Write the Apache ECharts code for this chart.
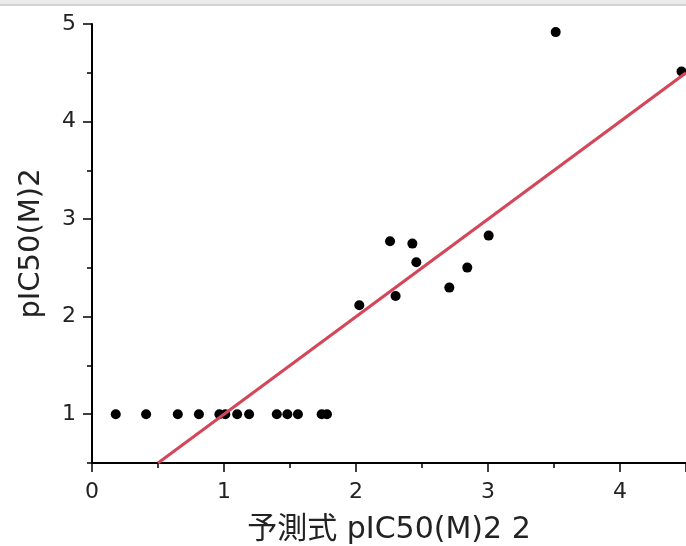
<!DOCTYPE html>
<html>
<head>
<meta charset="utf-8">
<script src="https://cdn.jsdelivr.net/npm/echarts@6/dist/echarts.min.js"></script>
<style>
html,body{margin:0;padding:0;background:#fff;}
#chart{width:686px;height:546px;}
</style>
</head>
<body>
<div id="chart"></div>
<script>
var xValues = [0.18, 0.41, 0.65, 0.81, 0.965, 1.01, 1.1, 1.19, 1.40, 1.48, 1.56, 1.74, 1.78,
               2.025, 2.258, 2.427, 2.457, 2.30, 2.707, 2.843, 3.005, 3.513, 4.466];
var yValues = [1, 1, 1, 1, 1, 1, 1, 1, 1, 1, 1, 1, 1,
               2.117, 2.773, 2.749, 2.557, 2.212, 2.298, 2.503, 2.831, 4.917, 4.514];
var lineX = [0.5, 4.5];
var lineY = [0.5, 4.5];
var yTickLabels = [1, 2, 3, 4, 5];
var xTitle = '予測式 pIC50(M)2 2';
var yTitle = 'pIC50(M)2';

var pts = xValues.map(function (x, i) { return [x, yValues[i]]; });
var linePts = lineX.map(function (x, i) { return [x, lineY[i]]; });

var fontFam = '"DejaVu Sans", "Noto Sans CJK JP", sans-serif';
var chart = echarts.init(document.getElementById('chart'), null, {renderer: 'canvas'});
chart.setOption({
  animation: false,
  backgroundColor: '#fff',
  grid: {left: 92, right: 0, top: 24, bottom: 83, containLabel: false, outerBoundsMode: 'none'},
  graphic: [
    {type: 'rect', shape: {x: 0, y: 0, width: 686, height: 4}, style: {fill: '#ebebeb'}, z: 100},
    {type: 'rect', shape: {x: 0, y: 4, width: 686, height: 2}, style: {fill: '#d2d2d2'}, z: 100}
  ],
  xAxis: {
    type: 'value', min: 0, max: 4.5, interval: 1,
    name: xTitle, nameLocation: 'middle', nameGap: 52,
    nameTextStyle: {fontSize: 30, color: '#222', fontFamily: fontFam},
    axisLine: {show: true, onZero: false, lineStyle: {color: '#000', width: 2}},
    axisTick: {show: true, length: 9, lineStyle: {color: '#000', width: 1.5}},
    minorTick: {show: true, splitNumber: 2, length: 5, lineStyle: {color: '#000', width: 1.5}},
    axisLabel: {fontSize: 22, color: '#222', margin: 18, fontFamily: fontFam,
      formatter: function (v) { return Number.isInteger(v) ? String(v) : ''; }},
    splitLine: {show: false}
  },
  yAxis: [{
    type: 'value', min: 0.5, max: 5, interval: 0.5,
    name: yTitle, nameLocation: 'middle', nameGap: 46,
    nameTextStyle: {fontSize: 29, color: '#222', fontFamily: fontFam},
    axisLine: {show: true, onZero: false, lineStyle: {color: '#000', width: 2}},
    axisTick: {show: true, length: 9, customValues: yTickLabels, lineStyle: {color: '#000', width: 1.5}},
    axisLabel: {fontSize: 22, color: '#222', margin: 16, fontFamily: fontFam, customValues: yTickLabels},
    splitLine: {show: false}
  }, {
    type: 'value', min: 0.5, max: 5, interval: 0.5, position: 'left',
    axisLine: {show: false},
    axisTick: {show: true, length: 5, lineStyle: {color: '#000', width: 1.5}},
    axisLabel: {show: false},
    splitLine: {show: false}
  }],
  series: [
    {type: 'scatter', data: pts, symbol: 'circle', symbolSize: 10,
      itemStyle: {color: '#000', opacity: 1}, z: 2, clip: false},
    {type: 'line', data: linePts, showSymbol: false, symbol: 'none',
      lineStyle: {color: '#d4475a', width: 3}, z: 3, clip: false}
  ]
});
</script>
</body>
</html>
